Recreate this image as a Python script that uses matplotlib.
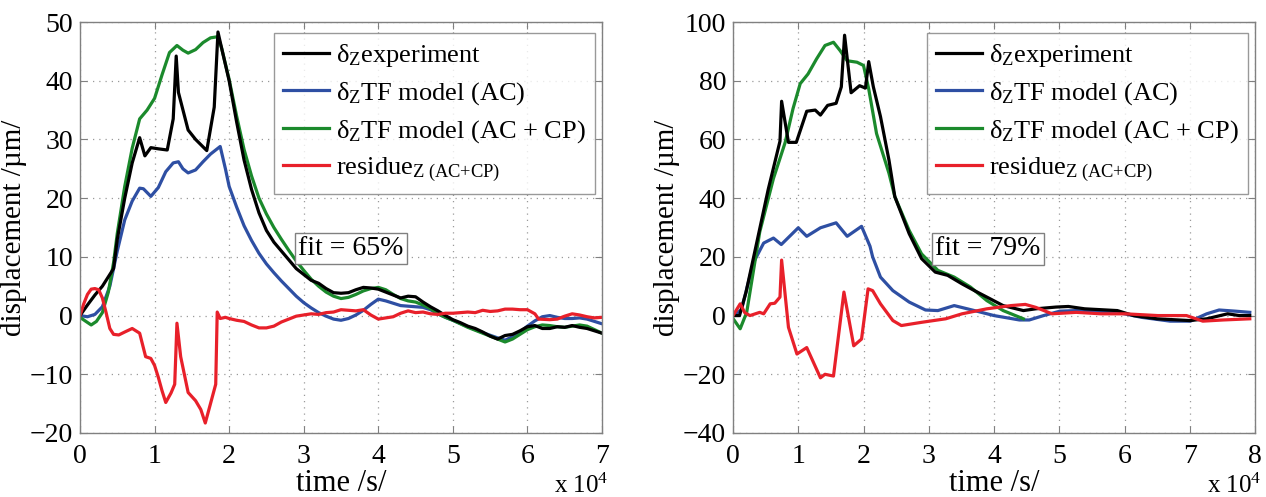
import matplotlib
matplotlib.use("Agg")
import matplotlib.pyplot as plt
import numpy as np
from matplotlib.ticker import FuncFormatter

plt.rcParams['font.family'] = ['Liberation Serif', 'DejaVu Serif']
plt.rcParams['mathtext.fontset'] = 'custom'
plt.rcParams['mathtext.rm'] = 'Liberation Serif'
plt.rcParams['mathtext.it'] = 'Liberation Serif:italic'

# ---- left panel data (time in 1e4 s) ----
left_exp_t = [0, 0.1, 0.2, 0.3, 0.4, 0.45, 0.5, 0.6, 0.7, 0.8, 0.87, 0.95, 1.05, 1.17, 1.25, 1.29, 1.32,
              1.45, 1.55, 1.7, 1.8, 1.85, 1.9, 2.0, 2.1, 2.2, 2.3, 2.4, 2.5, 2.6, 2.7, 2.8, 2.9, 3.0,
              3.1, 3.2, 3.3, 3.4, 3.5, 3.6, 3.7, 3.8, 3.9, 4.0, 4.1, 4.2, 4.3, 4.4, 4.5, 4.6, 4.7, 4.8,
              4.9, 5.0, 5.1, 5.2, 5.3, 5.4, 5.5, 5.6, 5.7, 5.8, 5.9, 6.0, 6.1, 6.2, 6.3, 6.4, 6.5, 6.6,
              6.7, 6.8, 6.9, 7.0]
left_exp = [0, 1.8, 3.5, 5, 7, 8, 13, 20, 26, 30.3, 27.2, 28.6, 28.4, 28.2, 33.5, 44.2, 38,
            31.6, 30, 28.1, 35.5, 48.3, 45.5, 40, 33, 26.5, 21.5, 17.5, 14.5, 12.5, 11, 9.5, 8, 7,
            6, 5.5, 4.6, 3.9, 3.8, 3.9, 4.4, 4.8, 4.7, 4.5, 4.0, 3.5, 3.0, 3.3, 3.2, 2.3, 1.5, 0.8,
            0, -0.7, -1.2, -1.8, -2.2, -2.8, -3.5, -4.0, -3.4, -3.2, -2.6, -1.9, -1.7, -2.2, -2.2, -1.9, -2.0, -1.7,
            -2.0, -2.2, -2.6, -3.0]

left_ac_t = [0, 0.1, 0.2, 0.3, 0.4, 0.5, 0.6, 0.7, 0.8, 0.85, 0.95, 1.05, 1.15, 1.25, 1.32, 1.38, 1.45,
             1.55, 1.65, 1.75, 1.88, 1.95, 2.0, 2.1, 2.2, 2.3, 2.4, 2.5, 2.6, 2.7, 2.8, 2.9, 3.0, 3.1,
             3.2, 3.3, 3.4, 3.5, 3.6, 3.7, 3.8, 3.9, 4.0, 4.1, 4.2, 4.3, 4.4, 4.5, 4.6, 4.7, 4.8, 4.9,
             5.0, 5.2, 5.4, 5.6, 5.7, 5.8, 5.9, 6.0, 6.1, 6.2, 6.3, 6.4, 6.5, 6.6, 6.7, 6.8, 6.9, 7.0]
left_ac = [0, -0.2, 0.2, 1.5, 5, 11, 16.3, 19.5, 21.7, 21.6, 20.3, 21.8, 24.5, 26, 26.2, 25, 24.3,
           24.8, 26.2, 27.5, 28.8, 25, 22, 18.5, 15.3, 12.8, 10.6, 8.8, 7.3, 5.9, 4.6, 3.3, 2.2, 1.3,
           0.5, -0.1, -0.6, -0.8, -0.5, 0.1, 0.9, 1.9, 2.8, 2.5, 2.1, 1.7, 1.6, 1.5, 1.4, 1.0, 0.3, -0.3,
           -0.8, -1.9, -2.9, -3.8, -4.2, -3.6, -2.8, -1.8, -0.9, -0.2, 0, -0.3, -0.5, -0.5, -0.4, -0.6, -1.0, -1.4]

left_cp_t = [0, 0.08, 0.15, 0.22, 0.3, 0.38, 0.45, 0.5, 0.6, 0.7, 0.8, 0.9, 1.0, 1.1, 1.2, 1.3, 1.38,
             1.45, 1.55, 1.65, 1.75, 1.85, 1.9, 2.0, 2.1, 2.2, 2.3, 2.4, 2.5, 2.6, 2.7, 2.8, 2.9, 3.0,
             3.1, 3.2, 3.3, 3.4, 3.5, 3.6, 3.7, 3.8, 3.9, 4.0, 4.1, 4.2, 4.3, 4.4, 4.5, 4.6, 4.7, 4.8,
             4.9, 5.0, 5.1, 5.2, 5.3, 5.4, 5.5, 5.6, 5.7, 5.8, 5.9, 6.0, 6.1, 6.2, 6.3, 6.4, 6.5, 6.6,
             6.7, 6.8, 6.9, 7.0]
left_cp = [-0.3, -1, -1.6, -1, 0.5, 4, 9, 14, 22, 28.5, 33.5, 35, 37, 41, 44.8, 46, 45.2,
           44.7, 45.3, 46.5, 47.3, 47.5, 45.5, 40.2, 34, 28.3, 23.8, 20, 17.3, 15, 13, 11.1, 9.3, 7.7,
           6.2, 5, 4, 3.3, 2.9, 3.1, 3.6, 4.2, 4.6, 4.8, 4.4, 3.6, 2.9, 2.5, 2.3, 1.8, 1.2, 0.3,
           -0.3, -0.8, -1.4, -2.0, -2.5, -3.0, -3.5, -4.0, -4.5, -4.0, -3.2, -2.4, -1.9, -1.6, -1.7, -1.9, -2.0, -1.8,
           -1.6, -1.8, -2.4, -3.0]

left_res_t = [0, 0.05, 0.1, 0.15, 0.2, 0.25, 0.3, 0.35, 0.4, 0.45, 0.52, 0.6, 0.7, 0.8, 0.85, 0.88, 0.95,
              1.0, 1.05, 1.1, 1.15, 1.22, 1.27, 1.3, 1.35, 1.45, 1.55, 1.62, 1.68, 1.75, 1.82, 1.84, 1.88,
              1.95, 2.0, 2.1, 2.2, 2.3, 2.4, 2.5, 2.6, 2.7, 2.8, 2.9, 3.0, 3.1, 3.2, 3.3, 3.4, 3.5, 3.6,
              3.7, 3.8, 3.9, 4.0, 4.1, 4.2, 4.3, 4.4, 4.5, 4.6, 4.7, 4.8, 4.9, 5.0, 5.1, 5.2, 5.3, 5.4,
              5.5, 5.6, 5.7, 5.8, 5.9, 6.0, 6.1, 6.15, 6.3, 6.4, 6.5, 6.6, 6.7, 6.8, 6.9, 7.0]
left_res = [0, 2, 3.6, 4.5, 4.6, 4.4, 3, 0.5, -2.2, -3.2, -3.3, -2.8, -2.2, -3, -5.5, -7, -7.3,
            -8.5, -10.5, -12.8, -14.8, -13.2, -11.7, -1.3, -7, -13.1, -14.5, -16, -18.3, -15, -11.7, 0.6, -0.5,
            -0.3, -0.5, -0.8, -1.0, -1.6, -2.1, -2.1, -1.8, -1.1, -0.6, -0.1, 0.1, 0.3, 0.2, 0.5, 0.6, 1.0, 0.9,
            0.8, 1.0, 0.1, -0.6, -0.4, -0.2, 0.4, 0.8, 0.5, 0.6, 0.3, 0.2, 0.4, 0.4, 0.5, 0.6, 0.5, 0.9,
            0.7, 0.8, 1.1, 1.1, 1.0, 1.0, 0.3, -0.6, -0.7, -0.6, -0.1, 0.3, 0.1, -0.2, -0.4, -0.3]

# ---- right panel data (time in 1e4 s) ----
right_exp_t = [0, 0.1, 0.2, 0.31, 0.54, 0.72, 0.745, 0.85, 0.97, 1.13, 1.26, 1.34, 1.45, 1.58, 1.66,
               1.71, 1.81, 1.94, 2.03, 2.08, 2.15, 2.26, 2.39, 2.48, 2.7, 2.89, 3.1, 3.29, 3.51, 3.7,
               3.89, 4.14, 4.45, 4.64, 4.95, 5.14, 5.39, 5.89, 6.14, 6.5, 7.0, 7.26, 7.58, 7.76, 7.92]
right_exp = [0, 0, 8, 19.3, 43, 59.4, 73, 59, 59, 69.6, 70, 68.3, 71.6, 72.3, 77.9,
             95.5, 75.9, 78.3, 77.5, 86.5, 78, 67.8, 53, 40.5, 27.9, 19.4, 14.8, 13.7, 10.8, 8.5,
             6.3, 3.4, 1.7, 2.3, 2.9, 3.1, 2.3, 1.7, 0, -1.1, -1.7, -1.1, 0.6, 0, 0]

right_ac_t = [0, 0.13, 0.31, 0.47, 0.62, 0.74, 1.0, 1.13, 1.34, 1.58, 1.75, 1.97, 2.1, 2.14, 2.26,
              2.45, 2.7, 2.95, 3.14, 3.39, 3.7, 4.0, 4.39, 4.54, 4.76, 5.01, 5.26, 5.89, 6.26, 6.7,
              7.01, 7.26, 7.45, 7.7, 7.92]
right_ac = [0, 2, 17.9, 24.7, 26.4, 24.2, 29.9, 27, 29.9, 31.6, 27, 30.4, 23.6, 20, 13.1,
            8.5, 4.6, 1.9, 1.7, 3.4, 1.7, 0, -1.5, -1.5, 0, 1.5, 1.7, 1.1, -0.6, -1.9,
            -1.9, 0.6, 1.9, 1.5, 1.1]

right_cp_t = [0, 0.11, 0.21, 0.41, 0.62, 0.8, 0.92, 1.03, 1.15, 1.28, 1.41, 1.54, 1.64, 1.75, 1.9,
              2.0, 2.08, 2.2, 2.39, 2.48, 2.7, 2.89, 3.14, 3.39, 3.64, 3.89, 4.14, 4.45]
right_cp = [-1, -4.5, 1.1, 28.5, 46.7, 59, 70.5, 79, 82.3, 87.4, 92, 93.1, 90.3, 86.8, 86.3,
            85.2, 77.2, 62, 48.5, 40.5, 29, 21, 15.4, 13.1, 9.7, 5.1, 1.7, -1.1]

right_res_t = [0, 0.11, 0.18, 0.26, 0.41, 0.47, 0.57, 0.64, 0.72, 0.745, 0.85, 0.98, 1.13, 1.34, 1.41,
               1.54, 1.7, 1.85, 1.97, 2.07, 2.14, 2.26, 2.45, 2.58, 2.89, 3.26, 3.51, 3.89, 4.26, 4.48,
               4.64, 4.89, 5.26, 5.64, 6.01, 6.51, 6.95, 7.2, 7.51, 7.92]
right_res = [0, 4, 1, 0, 1.1, 0.6, 4, 4.2, 6.3, 18.9, -4, -13.1, -10.9, -21.2, -20,
             -20.6, 8, -10.3, -8, 9.1, 8.5, 4, -1.7, -3.4, -2.3, -1.1, 0.6, 2.3, 3.4, 3.8,
             2.8, 0.6, 1.1, 0.6, 0.6, 0, 0, -1.9, -1.5, -1.1]

labels = ['δ$_{\\mathrm{Z}}$experiment',
          'δ$_{\\mathrm{Z}}$TF model (AC)',
          'δ$_{\\mathrm{Z}}$TF model (AC + CP)',
          'residue$_{\\mathrm{Z\\ (AC{+}CP)}}$']
colors = ['#000000', '#2e4fa3', '#1b8a2c', '#e8202a']

fig = plt.figure(figsize=(12.66, 4.97), dpi=100)
ax1 = fig.add_axes([80 / 1266, 64 / 497, 522 / 1266, 411 / 497])
ax2 = fig.add_axes([733 / 1266, 64 / 497, 522 / 1266, 411 / 497])

panels = [
    (ax1, [(left_exp_t, left_exp), (left_ac_t, left_ac), (left_cp_t, left_cp), (left_res_t, left_res)],
     (0, 7), (-20, 50), 10, 'fit = 65%', (2.93, 11.4)),
    (ax2, [(right_exp_t, right_exp), (right_ac_t, right_ac), (right_cp_t, right_cp), (right_res_t, right_res)],
     (0, 8), (-40, 100), 20, 'fit = 79%', (3.1, 22.7)),
]

for ax, series, xl, yl, ystep, fit_txt, fit_pos in panels:
    draw_order = [1, 2, 0, 3]
    lines = {}
    for i in draw_order:
        t, v = series[i]
        ln, = ax.plot(np.array(t), v, color=colors[i], lw=2.3, label=labels[i])
        lines[i] = ln
    ax.set_xlim(*xl)
    ax.set_ylim(*yl)
    ax.set_xticks(np.arange(xl[0], xl[1] + 1))
    ax.set_yticks(np.arange(yl[0], yl[1] + 1, ystep))
    ax.xaxis.set_major_formatter(FuncFormatter(lambda v, p: '%d' % v))
    ax.yaxis.set_major_formatter(FuncFormatter(lambda v, p: ('%d' % v).replace('-', '\u2212')))
    ax.grid(True, color='#9a9a9a', linestyle=(0, (1, 4)), lw=0.9)
    ax.tick_params(direction='in', top=True, right=True, length=5, width=0.8,
                   color='#808080', labelsize=20, pad=5)
    ax.tick_params(axis='x', pad=8)
    for s in ax.spines.values():
        s.set_color('#808080')
        s.set_linewidth(1.0)
    ax.set_xlabel('time /s/', fontsize=22, labelpad=0)
    ax.set_ylabel('displacement /µm/', fontsize=21, labelpad=2)
    ax.text(1.012, -0.145, 'x 10$^{4}$', transform=ax.transAxes, ha='right', va='baseline', fontsize=18)
    ax.text(fit_pos[0], fit_pos[1], fit_txt, fontsize=20, ha='left', va='center',
            bbox=dict(boxstyle='square,pad=0.12', fc='white', ec='#808080', lw=1.0))
    leg = ax.legend([lines[i] for i in range(4)], labels, loc='upper right',
                    bbox_to_anchor=(0.986, 0.974), fontsize=19, frameon=True, fancybox=False,
                    edgecolor='#808080', handlelength=1.75, handletextpad=0.25, labelspacing=0.42,
                    borderpad=0.35, borderaxespad=0)
    leg.get_frame().set_linewidth(1.0)

fig.savefig('out.png', dpi=100)
